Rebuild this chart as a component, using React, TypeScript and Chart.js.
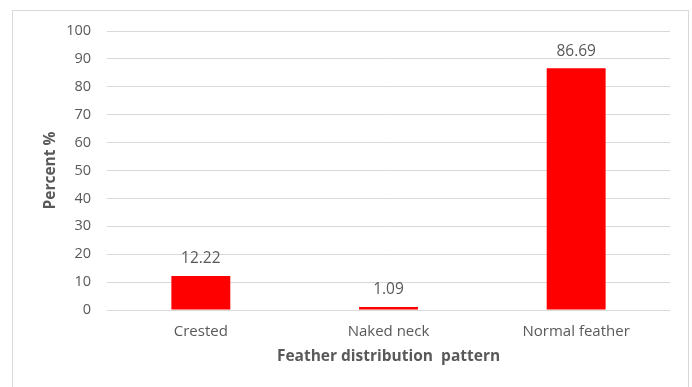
import React, { useEffect, useRef } from "react";
import { Chart, registerables } from "chart.js";

Chart.register(...registerables);

const categories = ["Crested", "Naked neck", "Normal feather"];
const percentValues = [12.22, 1.09, 86.69];
const valueLabels = ["12.22", "1.09", "86.69"];

const FONT = "'Open Sans', 'Noto Sans', sans-serif";
const TEXT = "#595959";
const GRID = "#d9d9d9";

// Light grey frame around the whole chart
const framePlugin = {
  id: "frame",
  beforeDraw(chart: any) {
    const ctx = chart.ctx;
    ctx.save();
    ctx.fillStyle = "#ffffff";
    ctx.fillRect(0, 0, chart.width, chart.height);
    ctx.strokeStyle = GRID;
    ctx.lineWidth = 1;
    ctx.strokeRect(12.5, 10.5, 676, 400);
    ctx.restore();
  },
};

// Value labels above each bar
const valueLabelPlugin = {
  id: "valueLabels",
  afterDatasetsDraw(chart: any) {
    const ctx = chart.ctx;
    const meta = chart.getDatasetMeta(0);
    ctx.save();
    ctx.font = `15.5px ${FONT}`;
    ctx.fillStyle = TEXT;
    ctx.textAlign = "center";
    ctx.textBaseline = "middle";
    meta.data.forEach((bar: any, i: number) => {
      ctx.fillText(valueLabels[i], bar.x, bar.y - 17);
    });
    ctx.restore();
  },
};

export default function App() {
  const canvasRef = useRef<HTMLCanvasElement | null>(null);

  useEffect(() => {
    document.body.style.margin = "0";
    const chart = new Chart(canvasRef.current!, {
      type: "bar",
      data: {
        labels: categories,
        datasets: [
          {
            data: percentValues,
            backgroundColor: "#ff0000",
            borderWidth: 0,
            barPercentage: 0.314,
            categoryPercentage: 1,
          },
        ],
      },
      options: {
        animation: false,
        responsive: true,
        maintainAspectRatio: false,
        layout: { padding: { top: 31, right: 22, left: 0, bottom: 0 } },
        plugins: {
          legend: { display: false },
          tooltip: { enabled: false },
        },
        scales: {
          x: {
            grid: { display: false },
            border: { display: false },
            ticks: { color: TEXT, font: { family: FONT, size: 15 }, padding: 5 },
            title: {
              display: true,
              text: "Feather distribution  pattern",
              color: TEXT,
              font: { family: FONT, size: 15.5, weight: "bold" },
              padding: { top: 0, bottom: 20.7 },
            },
            afterFit(scale: any) {
              scale.height = 77;
            },
          },
          y: {
            min: 0,
            max: 100,
            ticks: {
              stepSize: 10,
              color: TEXT,
              font: { family: FONT, size: 14.5 },
              padding: 16,
            },
            grid: { color: GRID, lineWidth: 1, drawTicks: false },
            border: { display: false },
            title: {
              display: true,
              text: "Percent %",
              color: TEXT,
              font: { family: FONT, size: 15.5, weight: "bold" },
              padding: { top: 41.7, bottom: 0 },
            },
            afterFit(scale: any) {
              scale.width = 107;
            },
          },
        },
      },
      plugins: [framePlugin, valueLabelPlugin],
    });
    return () => chart.destroy();
  }, []);

  return (
    <div style={{ position: "fixed", left: 0, top: 0, width: 692, height: 387 }}>
      <canvas ref={canvasRef} />
    </div>
  );
}
